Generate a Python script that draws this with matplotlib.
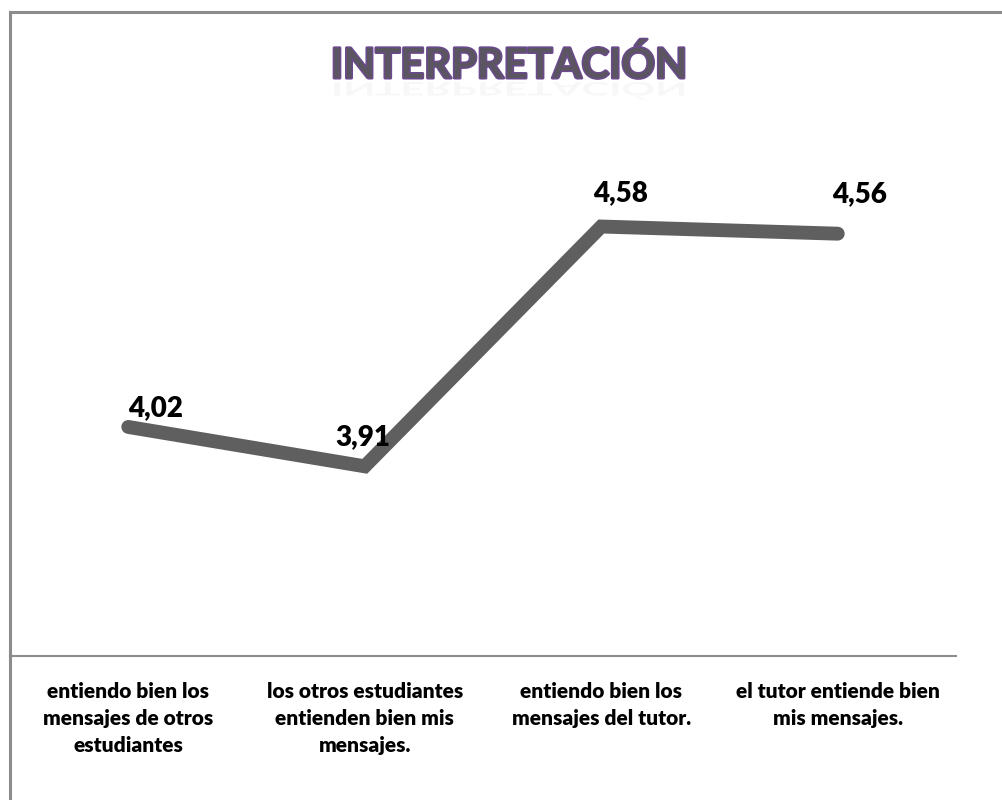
import matplotlib.pyplot as plt
import matplotlib.patheffects as pe
from matplotlib.textpath import TextPath
from matplotlib.patches import PathPatch
from matplotlib.font_manager import FontProperties
from matplotlib.transforms import Affine2D

categories = ["entiendo bien los\nmensajes de otros\nestudiantes",
              "los otros estudiantes\nentienden bien mis\nmensajes.",
              "entiendo bien los\nmensajes del tutor.",
              "el tutor entiende bien\nmis mensajes."]
values = [4.02, 3.91, 4.58, 4.56]
value_labels = ["4,02", "3,91", "4,58", "4,56"]
title = "INTERPRETACIÓN"

plt.rcParams['font.family'] = ['Lato', 'DejaVu Sans']

fig = plt.figure(figsize=(10.02, 8), dpi=100)
# outer chart frame (left and top edges visible)
fig.add_artist(plt.Line2D([10/1002, 10/1002], [0, 1-12/800], color='#8c8c8c', lw=2.2))
fig.add_artist(plt.Line2D([10/1002, 1], [1-12/800, 1-12/800], color='#8c8c8c', lw=2.2))

ax = fig.add_axes([10/1002, 144/800, 946/1002, 0.68])
x = list(range(len(values)))
ax.plot(x, values, color='#5f5f5f', lw=10, solid_capstyle='round', solid_joinstyle='miter')
ax.set_xlim(-0.5, len(values) - 0.5)
ax.set_ylim(3.38, 4.90)

offsets = [(20, 4.5), (-1.5, 12), (14, 15), (16, 19)]
for xi, v, lab, off in zip(x, values, value_labels, offsets):
    ax.annotate(lab, (xi, v), xytext=off, textcoords='offset points',
                ha='center', va='bottom', fontsize=20, fontweight='heavy', color='black')

for s in ['top', 'right', 'left']:
    ax.spines[s].set_visible(False)
ax.spines['bottom'].set_color('#8c8c8c')
ax.spines['bottom'].set_linewidth(1.5)
ax.set_yticks([])
ax.set_xticks(x)
ax.set_xticklabels(categories, fontsize=15, fontweight='heavy', linespacing=1.5)
ax.tick_params(axis='x', length=0, pad=19)

tx, ty = 0.508 * 1002, 800 - 78
fig.text(tx / 1002, ty / 800, title, ha='center', va='baseline',
         fontsize=30, fontweight='bold', color='#5a5560',
         path_effects=[pe.withStroke(linewidth=2.2, foreground='#6b4a8e')])

# faint reflection under the title
fp = FontProperties(family='Lato', weight='bold', size=30 * 100 / 72)
tp = TextPath((0, 0), title, prop=fp)
bb = tp.get_extents()
tr = Affine2D().translate(-bb.width / 2 - bb.x0, 0).scale(1, -0.45).translate(tx, ty - 4)
fig.add_artist(PathPatch(tr.transform_path(tp), facecolor='#b8b8c0', edgecolor='none',
                         alpha=0.10, transform=None))

fig.savefig("out.png", dpi=100, facecolor='white')
